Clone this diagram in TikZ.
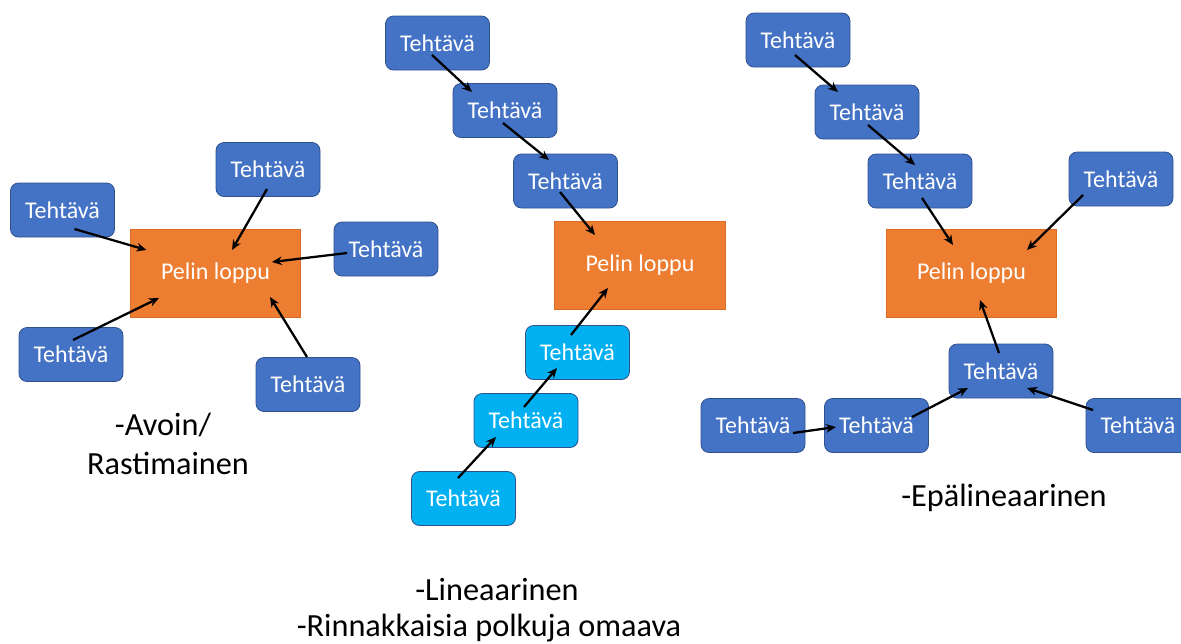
\documentclass[tikz,border=0pt]{standalone}
\usepackage{fontspec}
\setmainfont{Carlito}
\usetikzlibrary{arrows.meta}
\definecolor{taskblue}{HTML}{4472C4}
\definecolor{taskedge}{HTML}{2F528F}
\definecolor{taskcyan}{HTML}{00B0F0}
\definecolor{goalorange}{HTML}{ED7D31}
\definecolor{goaledge}{HTML}{D96B25}
\tikzset{
  task/.style={draw=taskedge, line width=0.6pt, fill=taskblue, rounded corners=6pt,
    minimum width=78pt, minimum height=40.5pt, inner sep=0pt, text=white,
    font=\fontsize{18}{21}\selectfont},
  taskc/.style={task, fill=taskcyan},
  goal/.style={draw=goaledge, line width=0.6pt, fill=goalorange,
    minimum width=128pt, minimum height=66pt, inner sep=0pt, text=white,
    font=\fontsize{18}{21}\selectfont},
  lbl/.style={inner sep=0pt, font=\fontsize{24.2}{28}\selectfont},
  conn/.style={line width=1.7pt, -{Stealth[length=7.5pt,width=6.5pt]}},
}
\begin{document}
\begin{tikzpicture}[x=0.75pt, y=-0.75pt]
\useasboundingbox (0,0) rectangle (1181,643);
\clip (0,0) rectangle (1181,643);

% open / checkpoint layout
\node[goal] (o1) at (215.5,273) {Pelin loppu};
\node[task] (a1) at (62.5,210) {Tehtävä};
\node[task] (a2) at (268,169.5) {Tehtävä};
\node[task] (a3) at (386,249) {Tehtävä};
\node[task] (a4) at (71,354.5) {Tehtävä};
\node[task] (a5) at (308,384.5) {Tehtävä};
\draw[conn] ([shift={(12,19)}]a1.center) -- ([shift={(-69,-23)}]o1.center);
\draw[conn] ([shift={(-1,19.5)}]a2.center) -- ([shift={(16.5,-23)}]o1.center);
\draw[conn] ([shift={(-39,4)}]a3.center) -- ([shift={(56.5,-11)}]o1.center);
\draw[conn] ([shift={(2,-14.5)}]a4.center) -- ([shift={(-56.5,25)}]o1.center);
\draw[conn] ([shift={(-1,-27.5)}]a5.center) -- ([shift={(54.5,24)}]o1.center);
\node[lbl] (la1) at (163,425) {-Avoin/};
\node[lbl] (la2) at (168,463) {Rastimainen};

% linear layout with a parallel path
\node[goal] (o2) at (640,265) {Pelin loppu};
\node[task] (b1) at (437.5,43) {Tehtävä};
\node[task] (b2) at (505,110.5) {Tehtävä};
\node[task] (b3) at (565.5,181) {Tehtävä};
\node[taskc] (c1) at (577.5,352.5) {Tehtävä};
\node[taskc] (c2) at (526,420.5) {Tehtävä};
\node[taskc] (c3) at (463.5,498.5) {Tehtävä};
\draw[conn] ([shift={(-5.5,12)}]b1.center) -- ([shift={(-33,-18.5)}]b2.center);
\draw[conn] ([shift={(-2,12.5)}]b2.center) -- ([shift={(-16.5,-21)}]b3.center);
\draw[conn] ([shift={(-5.5,11)}]b3.center) -- ([shift={(-45,-30)}]o2.center);
\draw[conn] ([shift={(-6.5,-17.5)}]c1.center) -- ([shift={(-32,23)}]o2.center);
\draw[conn] ([shift={(-2,-13.5)}]c2.center) -- ([shift={(-20.5,15.5)}]c1.center);
\draw[conn] ([shift={(-5.5,-20.5)}]c3.center) -- ([shift={(-30,16.5)}]c2.center);
\node[lbl] (lb1) at (497,590) {-Lineaarinen};
\node[lbl] (lb2) at (489,628) {-Rinnakkaisia polkuja omaava};

% non-linear layout
\node[goal] (o3) at (971.5,273) {Pelin loppu};
\node[task] (d1) at (798,40) {Tehtävä};
\node[task] (d2) at (867,112) {Tehtävä};
\node[task] (d3) at (920,181) {Tehtävä};
\node[task] (d4) at (1121,179) {Tehtävä};
\node[task] (e0) at (1001,371) {Tehtävä};
\node[task] (e1) at (753,425.5) {Tehtävä};
\node[task] (e2) at (876.5,425.5) {Tehtävä};
\node[task] (e3) at (1138,425.5) {Tehtävä};
\draw[conn] ([shift={(-3,15)}]d1.center) -- ([shift={(-29,-20)}]d2.center);
\draw[conn] ([shift={(1,13)}]d2.center) -- ([shift={(-5,-16)}]d3.center);
\draw[conn] ([shift={(2,17)}]d3.center) -- ([shift={(-18.5,-28)}]o3.center);
\draw[conn] ([shift={(-38,16)}]d4.center) -- ([shift={(55.5,-23)}]o3.center);
\draw[conn] ([shift={(-2,-18)}]e0.center) -- ([shift={(8.5,27)}]o3.center);
\draw[conn] ([shift={(40,7.5)}]e1.center) -- ([shift={(-40.5,1.5)}]e2.center);
\draw[conn] ([shift={(35.5,-8.5)}]e2.center) -- ([shift={(-33,17)}]e0.center);
\draw[conn] ([shift={(-45,-15.5)}]e3.center) -- ([shift={(26,17)}]e0.center);
\node[lbl] (lc1) at (1004,498) {-Epälineaarinen};
\end{tikzpicture}
\end{document}
